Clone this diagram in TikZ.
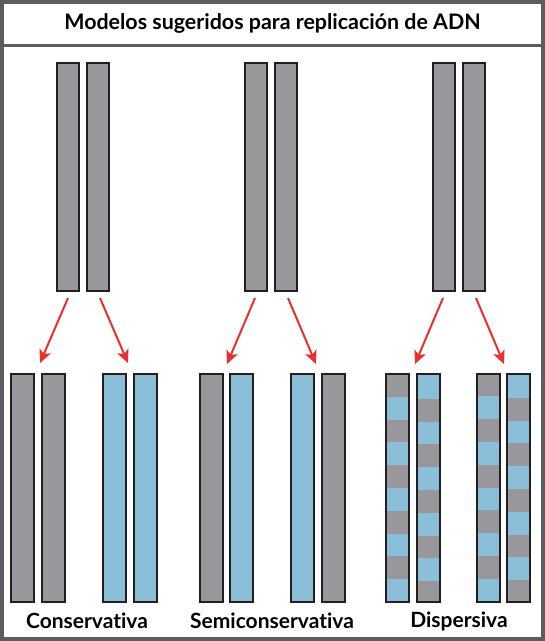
\documentclass[tikz,border=0pt]{standalone}
\usepackage{fontspec}
\setmainfont{Lato}[Ligatures=NoCommon]
\usetikzlibrary{arrows.meta}
\definecolor{strandgray}{HTML}{98989C}
\definecolor{strandblue}{HTML}{8BBFD9}
\definecolor{edgecol}{HTML}{231F20}
\definecolor{framecol}{HTML}{5D5D5F}
\definecolor{arrowred}{HTML}{E8302E}
\tikzset{
  strandbox/.style={draw=edgecol, line width=2pt, minimum width=23pt, minimum height=228pt, inner sep=0pt, outer sep=0pt},
  grayst/.style={strandbox, fill=strandgray},
  bluest/.style={strandbox, fill=strandblue},
  mixst/.style={strandbox},
  redarrow/.style={draw=arrowred, line width=2pt, -{Stealth[length=13pt,width=12pt,inset=3pt]}},
  titletext/.style={font=\fontsize{21.4}{24}\selectfont\bfseries},
  labeltext/.style={font=\fontsize{21}{23}\selectfont\bfseries},
}
\begin{document}
\begin{tikzpicture}[x=1pt,y=-1pt]
\useasboundingbox (0,0) rectangle (545,641);
% frame
\draw[framecol, line width=4pt] (2,2) rectangle (543,639);
\draw[framecol, line width=3pt] (0,45) -- (545,45);
\node[titletext] (title) at (272.5,23) {Modelos sugeridos para replicación de ADN};

% top parental strands
\node[grayst, minimum width=22pt] (c1) at (68,176.5) {};
\node[grayst, minimum width=22pt] (c2) at (98,176.5) {};
\node[grayst, minimum width=22pt] (s1) at (256,176.5) {};
\node[grayst, minimum width=22pt] (s2) at (286,176.5) {};
\node[grayst, minimum width=22pt] (d1) at (444,176.5) {};
\node[grayst, minimum width=22pt] (d2) at (474,176.5) {};

% bottom: conservative
\node[grayst] (cb1) at (22.5,488) {};
\node[grayst] (cb2) at (53,488) {};
\node[bluest] (cb3) at (114,488) {};
\node[bluest] (cb4) at (145,488) {};
% bottom: semiconservative
\node[grayst] (sb1) at (211,488) {};
\node[bluest] (sb2) at (241,488) {};
\node[bluest] (sb3) at (302.5,488) {};
\node[grayst] (sb4) at (333,488) {};
% bottom: dispersive stripes
\foreach \x/\top/\ntop/\first/\second in {397.5/374/374/strandgray/strandblue, 428.5/376/374/strandblue/strandgray, 488/373.5/373.5/strandgray/strandblue, 518.5/375/373.5/strandblue/strandgray}{
  \foreach \i in {0,...,9}{
    \pgfmathsetmacro{\ya}{\i==0 ? \ntop : \top+\i*22.8}
    \pgfmathsetmacro{\yb}{\i==9 ? \ntop+228 : \top+(\i+1)*22.8}
    \ifodd\i
      \fill[\second] ({\x-11.5},{\ya}) rectangle ({\x+11.5},{\yb});
    \else
      \fill[\first] ({\x-11.5},{\ya}) rectangle ({\x+11.5},{\yb});
    \fi
  }
}
\node[mixst] (db1) at (397.5,488) {};
\node[mixst] (db2) at (428.5,488) {};
\node[mixst] (db3) at (488,487.5) {};
\node[mixst] (db4) at (518.5,487.5) {};

% arrows
\coordinate (ca1) at (68,298);  \coordinate (ca2) at (40,363);
\coordinate (cb1s) at (100,298); \coordinate (cb2e) at (128,363);
\coordinate (sa1) at (255,298); \coordinate (sa2) at (227,364);
\coordinate (sb1s) at (288,298); \coordinate (sb2e) at (316,364);
\coordinate (da1) at (443,298); \coordinate (da2) at (415,364);
\coordinate (db1s) at (476,298); \coordinate (db2e) at (504,364);
\draw[redarrow] (ca1) -- (ca2);
\draw[redarrow] (cb1s) -- (cb2e);
\draw[redarrow] (sa1) -- (sa2);
\draw[redarrow] (sb1s) -- (sb2e);
\draw[redarrow] (da1) -- (da2);
\draw[redarrow] (db1s) -- (db2e);

% labels
\node[labeltext] (lc) at (87,621) {Conservativa};
\node[labeltext] (ls) at (272,621) {Semiconservativa};
\node[labeltext] (ld) at (459,621) {Dispersiva};
\end{tikzpicture}
\end{document}
